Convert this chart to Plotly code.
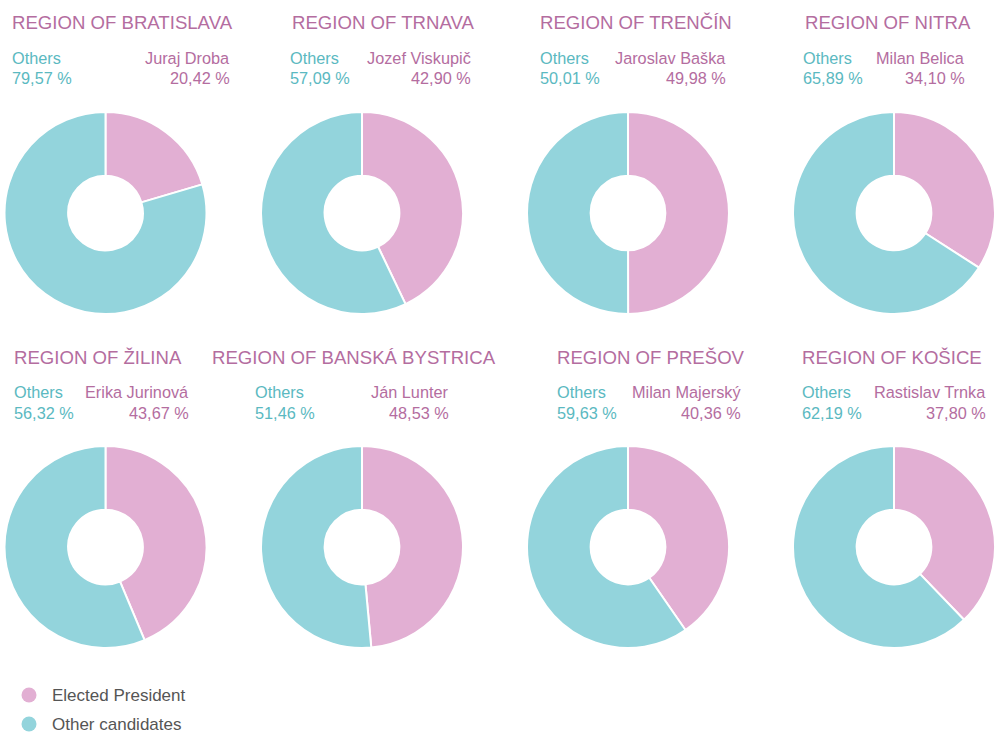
import plotly.graph_objects as go

regions = ["REGION OF BRATISLAVA", "REGION OF TRNAVA", "REGION OF TRENČÍN", "REGION OF NITRA",
           "REGION OF ŽILINA", "REGION OF BANSKÁ BYSTRICA", "REGION OF PREŠOV", "REGION OF KOŠICE"]
candidates = ["Juraj Droba", "Jozef Viskupič", "Jaroslav Baška", "Milan Belica",
              "Erika Jurinová", "Ján Lunter", "Milan Majerský", "Rastislav Trnka"]
elected_pct = [20.42, 42.90, 49.98, 34.10, 43.67, 48.53, 40.36, 37.80]
others_pct = [79.57, 57.09, 50.01, 65.89, 56.32, 51.46, 59.63, 62.19]
legend_labels = ["Elected President", "Other candidates"]

W, H = 995, 735
PINK = "#e2afd3"
TEAL = "#93d4dc"
PINK_TXT = "#b46d9f"
TEAL_TXT = "#5bb9c1"
FONT = "Liberation Sans, Arial, sans-serif"

# layout positions (pixels)
pie_cx = [105.5, 362, 628, 894]
pie_cy = [213, 547]
R = 101
title_x = [[10, 290, 538, 803], [12, 210, 555, 800]]
others_x = [[10, 288, 538, 801], [12, 253, 555, 800]]
right_x = [[232, 473, 728, 967], [191, 451, 743, 988]]
title_y = [23, 357]
lab_y = [58, 392]
val_y = [78, 413]


def px(x):
    return x / W


def py(y):
    return 1 - y / H


def fmt(v):
    return f"{v:.2f}".replace(".", ",") + " %"


fig = go.Figure()
annotations = []
for i, reg in enumerate(regions):
    row, col = divmod(i, 4)
    cx, cy = pie_cx[col], pie_cy[row]
    fig.add_trace(go.Pie(
        labels=[legend_labels[0], legend_labels[1]],
        values=[elected_pct[i], others_pct[i]],
        sort=False, direction="clockwise", rotation=0,
        hole=0.37, textinfo="none", hoverinfo="label+percent",
        marker=dict(colors=[PINK, TEAL], line=dict(color="white", width=2)),
        domain=dict(x=[px(cx - R), px(cx + R)], y=[py(cy + R), py(cy - R)]),
        showlegend=False,
    ))
    annotations.append(dict(x=px(title_x[row][col]), y=py(title_y[row]), xref="paper", yref="paper",
                            text=reg, showarrow=False, xanchor="left", yanchor="middle",
                            font=dict(family=FONT, size=18.6, color=PINK_TXT)))
    annotations.append(dict(x=px(others_x[row][col]), y=py(lab_y[row]), xref="paper", yref="paper",
                            text="Others", showarrow=False, xanchor="left", yanchor="middle",
                            font=dict(family=FONT, size=16.3, color=TEAL_TXT)))
    annotations.append(dict(x=px(others_x[row][col]), y=py(val_y[row]), xref="paper", yref="paper",
                            text=fmt(others_pct[i]), showarrow=False, xanchor="left", yanchor="middle",
                            font=dict(family=FONT, size=16.3, color=TEAL_TXT)))
    annotations.append(dict(x=px(right_x[row][col]), y=py(lab_y[row]), xref="paper", yref="paper",
                            text=candidates[i], showarrow=False, xanchor="right", yanchor="middle",
                            font=dict(family=FONT, size=16.3, color=PINK_TXT)))
    annotations.append(dict(x=px(right_x[row][col]), y=py(val_y[row]), xref="paper", yref="paper",
                            text=fmt(elected_pct[i]), showarrow=False, xanchor="right", yanchor="middle",
                            font=dict(family=FONT, size=16.3, color=PINK_TXT)))

# legend
shapes = []
leg_y = [695, 724]
for j, (lab, col) in enumerate(zip(legend_labels, [PINK, TEAL])):
    y = leg_y[j]
    shapes.append(dict(type="circle", xref="paper", yref="paper",
                       x0=px(21.5), x1=px(36.5), y0=py(y + 7.5), y1=py(y - 7.5),
                       fillcolor=col, line=dict(width=0)))
    annotations.append(dict(x=px(50), y=py(y), xref="paper", yref="paper", text=lab,
                            showarrow=False, xanchor="left", yanchor="middle",
                            font=dict(family=FONT, size=17, color="#555555")))

fig.update_layout(width=W, height=H, margin=dict(l=0, r=0, t=0, b=0),
                  paper_bgcolor="white", plot_bgcolor="white",
                  annotations=annotations, shapes=shapes, showlegend=False)
fig.write_html("out.html", config={"displayModeBar": False},
               post_script="document.body.style.margin='0';document.body.style.overflow='hidden';")
